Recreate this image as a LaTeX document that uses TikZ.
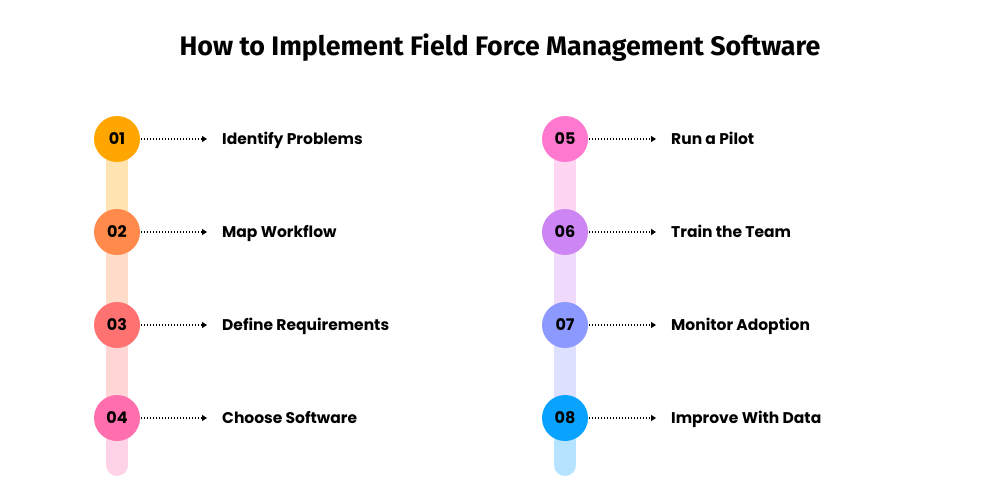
\documentclass[tikz,border=0pt]{standalone}
\usepackage{fontspec}
\setmainfont{Poppins}
\newfontfamily\titlefont{Fira Sans}
\usetikzlibrary{arrows.meta}

\definecolor{cone}{HTML}{FFA600}
\definecolor{ctwo}{HTML}{FF8A4C}
\definecolor{cthree}{HTML}{FF7272}
\definecolor{cfour}{HTML}{FF6EAD}
\definecolor{cfive}{HTML}{FF78CF}
\definecolor{csix}{HTML}{CC85F2}
\definecolor{cseven}{HTML}{8C99FF}
\definecolor{ceight}{HTML}{0AA2FF}

\tikzset{
  stepdot/.style={circle, minimum size=46pt, inner sep=0pt, font=\fontsize{16}{18}\selectfont\bfseries},
  steplabel/.style={anchor=base west, inner sep=0pt, font=\fontsize{15.5}{18}\selectfont\bfseries},
  dotarrow/.style={-{Triangle[length=5pt, width=6pt]}, line width=1.1pt, dash pattern=on 1.1pt off 1.9pt, shorten >=15pt, shorten <=1pt}
}

\begin{document}
\begin{tikzpicture}[x=1pt, y=-1pt]
	\useasboundingbox (0,0) rectangle (1000,500);
	\fill[white] (0,0) rectangle (1000,500);
	\node (title) at (500,48) {\titlefont\fontsize{26.8}{30}\selectfont\bfseries How to Implement Field Force Management Software};

	\fill[cone!30] (106,139) rectangle (128,232);
	\fill[ctwo!30] (106,232) rectangle (128,325);
	\fill[cthree!30] (106,325) rectangle (128,418);
	\draw[cfour!30, line width=22pt, line cap=round] (117,418) -- (117,465);
	\fill[cfive!30] (554,139) rectangle (576,232);
	\fill[csix!30] (554,232) rectangle (576,325);
	\fill[cseven!30] (554,325) rectangle (576,418);
	\draw[ceight!30, line width=22pt, line cap=round] (565,418) -- (565,465);

	\node[stepdot, fill=cone] (c1) at (117,139) {01};
	\node[stepdot, fill=ctwo] (c2) at (117,232) {02};
	\node[stepdot, fill=cthree] (c3) at (117,325) {03};
	\node[stepdot, fill=cfour] (c4) at (117,418) {04};
	\node[stepdot, fill=cfive] (c5) at (565,139) {05};
	\node[stepdot, fill=csix] (c6) at (565,232) {06};
	\node[stepdot, fill=cseven] (c7) at (565,325) {07};
	\node[stepdot, fill=ceight] (c8) at (565,418) {08};

	\node[steplabel] (l1) at (222,144.5) {Identify Problems};
	\node[steplabel] (l2) at (222,237.5) {Map Workflow};
	\node[steplabel] (l3) at (222,330.5) {Define Requirements};
	\node[steplabel] (l4) at (222,423.5) {Choose Software};
	\node[steplabel] (l5) at (671,144.5) {Run a Pilot};
	\node[steplabel] (l6) at (671,237.5) {Train the Team};
	\node[steplabel] (l7) at (671,330.5) {Monitor Adoption};
	\node[steplabel] (l8) at (671,423.5) {Improve With Data};

	\draw[dotarrow] (c1.east) -- (c1.east -| l1.west);
	\draw[dotarrow] (c2.east) -- (c2.east -| l2.west);
	\draw[dotarrow] (c3.east) -- (c3.east -| l3.west);
	\draw[dotarrow] (c4.east) -- (c4.east -| l4.west);
	\draw[dotarrow] (c5.east) -- (c5.east -| l5.west);
	\draw[dotarrow] (c6.east) -- (c6.east -| l6.west);
	\draw[dotarrow] (c7.east) -- (c7.east -| l7.west);
	\draw[dotarrow] (c8.east) -- (c8.east -| l8.west);
\end{tikzpicture}
\end{document}
